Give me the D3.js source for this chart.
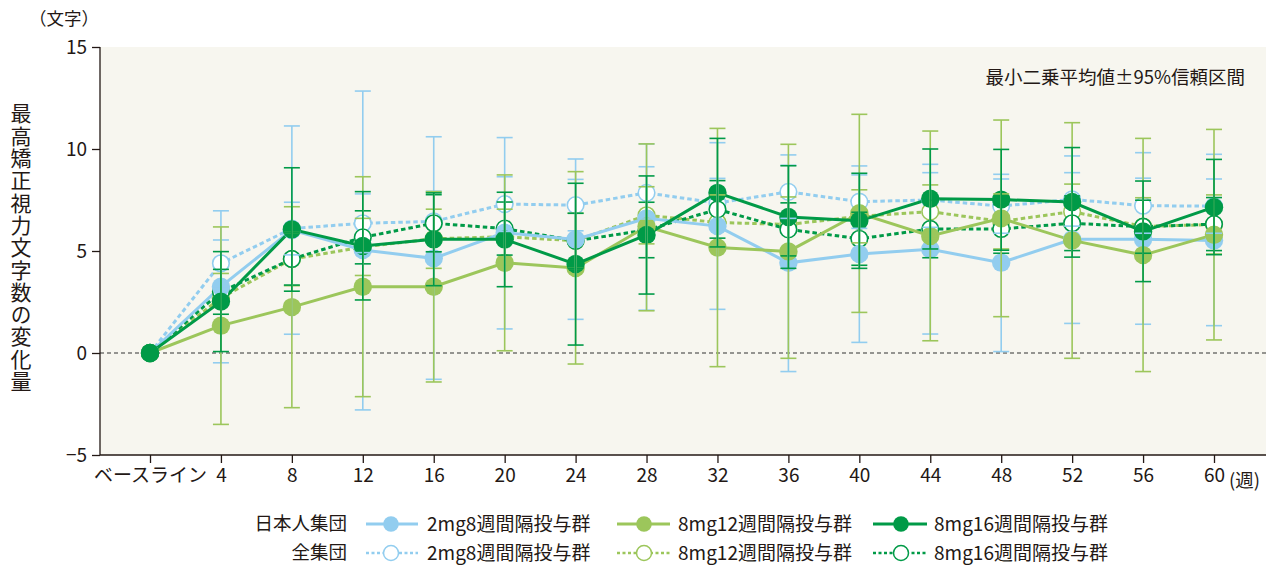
<!DOCTYPE html>
<html>
<head>
<meta charset="utf-8">
<script src="https://cdn.jsdelivr.net/npm/d3@7"></script>
<style>
  html, body { margin: 0; padding: 0; background: #ffffff; }
  svg { display: block; }
  text { font-family: "Noto Sans CJK JP", "Noto Sans", sans-serif; fill: #231815; }
</style>
</head>
<body>
<svg id="chart" width="1268" height="565"></svg>
<script>
// Visit weeks (0 = baseline)
const weeks = [0, 4, 8, 12, 16, 20, 24, 28, 32, 36, 40, 44, 48, 52, 56, 60];
const weekLabels = ["ベースライン", "4", "8", "12", "16", "20", "24", "28", "32", "36", "40", "44", "48", "52", "56", "60"];
const yTicks = [-5, 0, 5, 10, 15];

// Japanese subgroup: least-squares mean and 95% CI
const jp2mg8 = [0, 3.25, 6.03, 5.05, 4.64, 5.9, 5.57, 6.6, 6.22, 4.42, 4.85, 5.08, 4.43, 5.57, 5.57, 5.52];
const jp2mg8Lo = [0, -0.48, 0.92, -2.79, -1.29, 1.18, 1.65, 2.1, 2.14, -0.91, 0.52, 0.93, 0.07, 1.45, 1.41, 1.34];
const jp2mg8Hi = [0, 6.97, 11.13, 12.84, 10.6, 10.56, 9.51, 10.25, 10.31, 9.71, 9.17, 9.25, 8.76, 9.66, 9.82, 9.74];

const jp8mg12 = [0, 1.34, 2.25, 3.25, 3.25, 4.42, 4.17, 6.2, 5.17, 4.98, 6.85, 5.74, 6.6, 5.52, 4.8, 5.8];
const jp8mg12Lo = [0, -3.5, -2.68, -2.14, -1.42, 0.11, -0.54, 2.07, -0.67, -0.26, 1.99, 0.6, 1.78, -0.26, -0.91, 0.64];
const jp8mg12Hi = [0, 6.18, 7.17, 8.64, 7.91, 8.73, 8.89, 10.25, 11.01, 10.23, 11.7, 10.88, 11.42, 11.29, 10.52, 10.96];

const jp8mg16 = [0, 2.52, 6.06, 5.25, 5.57, 5.57, 4.36, 5.79, 7.85, 6.67, 6.48, 7.56, 7.52, 7.4, 5.96, 7.15];
const jp8mg16Lo = [0, 0.07, 3.03, 2.6, 3.3, 3.25, 0.39, 2.89, 5.2, 4.15, 4.15, 5.1, 5.04, 4.7, 3.5, 4.82];
const jp8mg16Hi = [0, 4.97, 9.08, 7.91, 7.85, 7.88, 8.32, 8.68, 10.52, 9.18, 8.81, 10.0, 9.98, 10.07, 8.43, 9.49];

// Overall population: least-squares mean and 95% CI
const all2mg8 = [0, 4.4, 6.1, 6.36, 6.45, 7.3, 7.25, 7.85, 7.35, 7.9, 7.42, 7.5, 7.2, 7.53, 7.22, 7.2];
const all2mg8Lo = [0, 3.26, 4.81, 4.92, 4.97, 5.96, 5.99, 6.57, 6.14, 6.6, 6.11, 6.16, 5.87, 6.22, 5.87, 5.87];
const all2mg8Hi = [0, 5.54, 7.39, 7.8, 7.93, 8.64, 8.51, 9.13, 8.56, 9.2, 8.73, 8.84, 8.53, 8.84, 8.57, 8.53];

const all8mg12 = [0, 2.7, 4.6, 5.2, 5.6, 5.7, 5.5, 6.75, 6.4, 6.3, 6.7, 6.93, 6.45, 6.93, 6.2, 6.3];
const all8mg12Lo = [0, 1.5, 3.3, 3.8, 4.15, 4.35, 4.15, 5.35, 5.05, 4.95, 5.4, 5.62, 5.1, 5.58, 4.79, 4.85];
const all8mg12Hi = [0, 3.9, 5.9, 6.6, 7.05, 7.05, 6.85, 8.15, 7.75, 7.65, 8.0, 8.24, 7.8, 8.28, 7.61, 7.75];

const all8mg16 = [0, 3.0, 4.61, 5.67, 6.36, 6.1, 5.5, 6.03, 7.04, 6.06, 5.6, 6.08, 6.08, 6.36, 6.19, 6.32];
const all8mg16Lo = [0, 1.9, 3.33, 4.37, 4.96, 4.8, 4.15, 4.67, 5.63, 4.76, 4.3, 4.67, 4.89, 5.02, 4.89, 5.02];
const all8mg16Hi = [0, 4.1, 5.89, 6.97, 7.76, 7.4, 6.85, 7.39, 8.45, 7.36, 6.9, 7.49, 7.27, 7.7, 7.49, 7.62];

const groupNames = ["2mg8週間隔投与群", "8mg12週間隔投与群", "8mg16週間隔投与群"];
const groupColors = ["#92cdef", "#9cc65b", "#009a47"];

const svg = d3.select("#chart");
const plot = { left: 100, right: 1266, top: 47, bottom: 455 };

const x = d3.scaleLinear().domain([0, 60]).range([150, 1214]);
const y = d3.scaleLinear().domain([-5, 15]).range([plot.bottom, plot.top]);

// Plot background
svg.append("rect")
  .attr("x", plot.left).attr("y", plot.top)
  .attr("width", plot.right - plot.left).attr("height", plot.bottom - plot.top)
  .attr("fill", "#f7f6ef");

// Zero reference line
svg.append("line")
  .attr("x1", plot.left).attr("x2", plot.right)
  .attr("y1", y(0)).attr("y2", y(0))
  .attr("stroke", "#333").attr("stroke-width", 1.2)
  .attr("stroke-dasharray", "4,3");

// Axes
const yAxis = d3.axisLeft(y).tickValues(yTicks).tickSize(8).tickPadding(5).tickFormat(d3.format("d"));
const gy = svg.append("g").attr("transform", `translate(${plot.left},0)`).call(yAxis);
gy.select(".domain").remove();
gy.append("line").attr("x1", 0).attr("x2", 0).attr("y1", plot.top).attr("y2", plot.bottom)
  .attr("stroke", "#231815").attr("stroke-width", 1.3);
gy.selectAll(".tick line").attr("stroke", "#231815").attr("stroke-width", 1.3);
gy.selectAll(".tick text").attr("font-size", 19).attr("fill", "#231815")
  .style("font-family", '"Noto Sans CJK JP", sans-serif');

const xAxis = d3.axisBottom(x).tickValues(weeks).tickSize(8).tickPadding(6)
  .tickFormat((d, i) => weekLabels[i]);
const gx = svg.append("g").attr("transform", `translate(0,${plot.bottom})`).call(xAxis);
gx.select(".domain").remove();
gx.append("line").attr("x1", plot.left).attr("x2", plot.right).attr("y1", 0).attr("y2", 0)
  .attr("stroke", "#231815").attr("stroke-width", 1.3);
gx.selectAll(".tick line").attr("stroke", "#231815").attr("stroke-width", 1.3);
gx.selectAll(".tick text").attr("font-size", 19).attr("fill", "#231815")
  .style("font-family", '"Noto Sans CJK JP", sans-serif');

// Unit labels
svg.append("text").attr("x", x(60) + 15).attr("y", plot.bottom + 32)
  .attr("font-size", 18.5).text("(週)");
svg.append("text").attr("x", 64).attr("y", 25).attr("text-anchor", "middle")
  .attr("font-size", 17.5).text("（文字）");

// Vertical axis title
svg.append("text")
  .attr("x", 21).attr("y", 103)
  .attr("font-size", 21)
  .style("writing-mode", "vertical-rl")
  .style("glyph-orientation-vertical", "0")
  .attr("letter-spacing", 1.3)
  .text("最高矯正視力文字数の変化量");

// CI note
svg.append("text").attr("x", 1245).attr("y", 84).attr("text-anchor", "end")
  .attr("font-size", 18.5).text("最小二乗平均値±95%信頼区間");

// Series definitions
const jpSeries = [
  { v: jp2mg8, lo: jp2mg8Lo, hi: jp2mg8Hi, c: groupColors[0] },
  { v: jp8mg12, lo: jp8mg12Lo, hi: jp8mg12Hi, c: groupColors[1] },
  { v: jp8mg16, lo: jp8mg16Lo, hi: jp8mg16Hi, c: groupColors[2] }
];
const allSeries = [
  { v: all2mg8, lo: all2mg8Lo, hi: all2mg8Hi, c: groupColors[0] },
  { v: all8mg12, lo: all8mg12Lo, hi: all8mg12Hi, c: groupColors[1] },
  { v: all8mg16, lo: all8mg16Lo, hi: all8mg16Hi, c: groupColors[2] }
];

const line = d3.line().x((d, i) => x(weeks[i])).y(d => y(d));

// Overall population: dotted lines
allSeries.forEach(s => {
  svg.append("path").datum(s.v).attr("d", line)
    .attr("fill", "none").attr("stroke", s.c).attr("stroke-width", 3)
    .attr("stroke-dasharray", "4.5,3");
});
// Japanese subgroup: solid lines
jpSeries.forEach(s => {
  svg.append("path").datum(s.v).attr("d", line)
    .attr("fill", "none").attr("stroke", s.c).attr("stroke-width", 3);
});

// Markers
allSeries.forEach(s => {
  svg.append("g").selectAll("circle").data(s.v).join("circle")
    .attr("cx", (d, i) => x(weeks[i])).attr("cy", d => y(d)).attr("r", 8.3)
    .attr("fill", "#ffffff").attr("stroke", s.c).attr("stroke-width", 1.6);
});
jpSeries.forEach(s => {
  svg.append("g").selectAll("circle").data(s.v).join("circle")
    .attr("cx", (d, i) => x(weeks[i])).attr("cy", d => y(d)).attr("r", 9.2)
    .attr("fill", s.c);
});

// 95% confidence intervals (baseline has none)
function drawCI(s) {
  const g = svg.append("g").attr("stroke", s.c).attr("stroke-width", 1.6).attr("fill", "none");
  const idx = weeks.map((w, i) => i).filter(i => i > 0);
  idx.forEach(i => {
    const cx = x(weeks[i]);
    g.append("line").attr("x1", cx).attr("x2", cx).attr("y1", y(s.lo[i])).attr("y2", y(s.hi[i]));
    g.append("line").attr("x1", cx - 8).attr("x2", cx + 8).attr("y1", y(s.lo[i])).attr("y2", y(s.lo[i]));
    g.append("line").attr("x1", cx - 8).attr("x2", cx + 8).attr("y1", y(s.hi[i])).attr("y2", y(s.hi[i]));
  });
}
allSeries.forEach(drawCI);
jpSeries.forEach(drawCI);

// Baseline point sits on top of everything
svg.append("circle").attr("cx", x(0)).attr("cy", y(jp8mg16[0])).attr("r", 9.2).attr("fill", groupColors[2]);

// Legend
const legendRows = [
  { label: "日本人集団", y: 524, dashed: false },
  { label: "全集団", y: 553, dashed: true }
];
const legendItems = [
  { x0: 366, x1: 418, mx: 391, tx: 427 },
  { x0: 617, x1: 670, mx: 644, tx: 678 },
  { x0: 873, x1: 927, mx: 901, tx: 934 }
];
const lg = svg.append("g");
legendRows.forEach(row => {
  lg.append("text").attr("x", 347).attr("y", row.y).attr("dy", "0.35em")
    .attr("text-anchor", "end").attr("font-size", 18.5).text(row.label);
  legendItems.forEach((it, k) => {
    const c = groupColors[k];
    const ln = lg.append("line").attr("x1", it.x0).attr("x2", it.x1)
      .attr("y1", row.y).attr("y2", row.y).attr("stroke", c).attr("stroke-width", 3);
    if (row.dashed) ln.attr("stroke-dasharray", "3,2.5").attr("stroke-width", 2.6);
    if (row.dashed) {
      lg.append("circle").attr("cx", it.mx).attr("cy", row.y).attr("r", 7.5)
        .attr("fill", "#fff").attr("stroke", c).attr("stroke-width", 1.5);
    } else {
      lg.append("circle").attr("cx", it.mx).attr("cy", row.y).attr("r", 7.8).attr("fill", c);
    }
    lg.append("text").attr("x", it.tx).attr("y", row.y).attr("dy", "0.35em")
      .attr("font-size", 19).text(groupNames[k]);
  });
});
</script>
</body>
</html>
